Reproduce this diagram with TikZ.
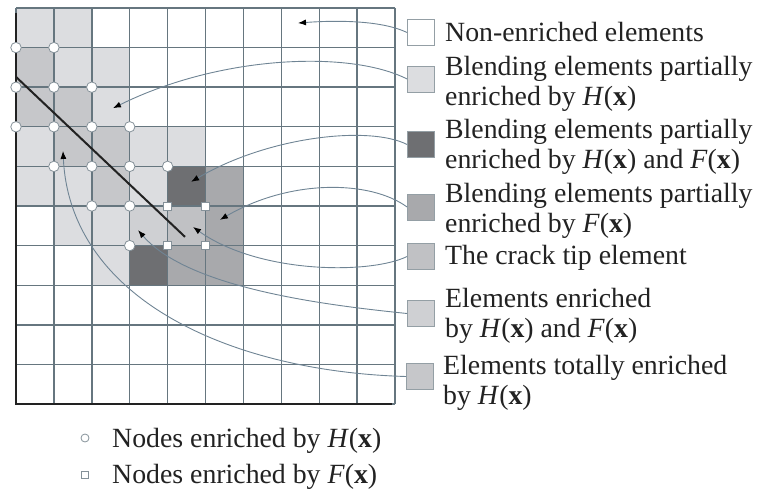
\documentclass[tikz,border=0pt]{standalone}
\usepackage{fontspec}
\setmainfont{Liberation Serif}
\usepackage{xcolor}
\usepackage{tikz}
\usetikzlibrary{positioning, arrows.meta, calc}
\definecolor{xfgrid}{HTML}{66767F}
\definecolor{xfline}{HTML}{6F8494}
\definecolor{xfblendH}{HTML}{DCDDE0}
\definecolor{xftotH}{HTML}{C6C7CA}
\definecolor{xfHF}{HTML}{CFD0D3}
\definecolor{xftip}{HTML}{C0C1C4}
\definecolor{xfblendHF}{HTML}{6E6F72}
\definecolor{xfblendF}{HTML}{A8A9AC}
\definecolor{xfink}{HTML}{222222}
\newcommand{\Hx}{\textit{H}(\textbf{x})}
\newcommand{\Fx}{\textit{F}(\textbf{x})}

\begin{document}
\begin{tikzpicture}[x=1pt, y=-1pt,
  mesh/.style={shift={(16,8)}, x=37.9pt, y=-39.6pt},
  gridline/.style={draw=xfgrid, line width=1.4pt},
  key/.style={rectangle, draw=xfgrid!70, line width=0.9pt,
    minimum width=27pt, minimum height=26pt, inner sep=0pt},
  lbl/.style={anchor=base west, inner sep=0pt, align=left, text=xfink,
    font=\fontsize{27.8}{30}\selectfont},
  arr/.style={-{Latex[length=8pt,width=6pt,color=black]}, draw=xfline, line width=0.9pt},
  hnode/.style={circle, draw=xfgrid!80, fill=white, line width=0.8pt,
    minimum size=10.5pt, inner sep=0pt},
  fnode/.style={rectangle, draw=xfgrid!80, fill=white, line width=0.8pt,
    minimum size=8pt, inner sep=0pt},
]
\useasboundingbox (0,0) rectangle (763,497);

% Mesh and element colours
\begin{scope}[mesh]
  \foreach \c/\r in {0/0,1/0,1/1,2/1,2/2,0/3,3/3,4/3,0/4,1/4,3/4,1/5,2/5,2/6}
    \fill[xfblendH] (\c,\r) rectangle ++(1,1);
  \foreach \c/\r in {0/1,0/2,1/2,1/3,2/3,2/4}
    \fill[xftotH] (\c,\r) rectangle ++(1,1);
  \foreach \c/\r in {4/4,3/6}
    \fill[xfblendHF] (\c,\r) rectangle ++(1,1);
  \foreach \c/\r in {5/4,5/5,4/6,5/6}
    \fill[xfblendF] (\c,\r) rectangle ++(1,1);
  \fill[xftip] (4,5) rectangle ++(1,1);
  \fill[xfHF] (3,5) rectangle ++(1,1);
  \foreach \i in {0,...,10} {
    \draw[gridline] (\i,0) -- (\i,10);
    \draw[gridline] (0,\i) -- (10,\i);
  }
  \draw[xfink, line width=2.4pt] (0,0.12) -- (0,10) -- (9.93,10);
  % crack
  \draw[xfink, line width=2pt] (0,1.74) -- (4.46,5.78);
  % arrow targets
  \coordinate (tNon) at (7.44,0.38);
  \coordinate (tBlendH) at (2.56,2.53);
  \coordinate (tBlendHF) at (4.62,4.39);
  \coordinate (tBlendF) at (5.38,5.35);
  \coordinate (tTip) at (4.67,5.53);
  \coordinate (tHF) at (3.22,5.61);
  \coordinate (tTotH) at (1.24,3.61);
\end{scope}

% Legend boxes
\node[key, fill=white] (kNon) at (421,32.5) {};
\node[key, fill=xfblendH] (kBlendH) at (421,79) {};
\node[key, fill=xfblendHF] (kBlendHF) at (421,144.5) {};
\node[key, fill=xfblendF] (kBlendF) at (421,207) {};
\node[key, fill=xftip] (kTip) at (421,256.5) {};
\node[key, fill=xfHF] (kHF) at (421,313.5) {};
\node[key, fill=xftotH] (kTotH) at (420,376.5) {};

% Legend texts (base = last line)
\node[lbl] (lNon) at (445,42) {Non-enriched elements};
\node[lbl] (lBlendH) at (445,106) {Blending elements partially\\enriched by \Hx};
\node[lbl] (lBlendHF) at (445,169) {Blending elements partially\\enriched by \Hx{} and \Fx};
\node[lbl] (lBlendF) at (445,233) {Blending elements partially\\enriched by \Fx};
\node[lbl] (lTip) at (445,265) {The crack tip element};
\node[lbl] (lHF) at (445,337) {Elements enriched\\by \Hx{} and \Fx};
\node[lbl] (lTotH) at (443,404) {Elements totally enriched\\by \Hx};

% Arrows
\draw[arr] (kNon.west) .. controls +(-25,-12) and +(40,-3) .. (tNon);
\draw[arr] (kBlendH.west) .. controls +(-57,-29) and +(107,-53) .. (tBlendH);
\draw[arr] (kBlendHF.west) .. controls +(-37,-19) and +(78,-46) .. (tBlendHF);
\draw[arr] (kBlendF.west) .. controls +(-37,-27) and +(70,-41) .. (tBlendF);
\draw[arr] (kTip.west) .. controls +(-37,18) and +(66,47) .. (tTip);
\draw[arr] (kHF.west) .. controls +(-77,-8) and +(51,59) .. (tHF);
\draw[arr] (kTotH.west) .. controls +(-176,-5) and +(7,148) .. (tTotH);

% Enriched nodes
\begin{scope}[mesh]
  \foreach \i/\j in {0/1,1/1,0/2,1/2,2/2,0/3,1/3,2/3,3/3,1/4,2/4,3/4,4/4,2/5,3/5,3/6}
    \node[hnode] (h\i\j) at (\i,\j) {};
  \foreach \i/\j in {4/5,5/5,4/6,5/6}
    \node[fnode] (f\i\j) at (\i,\j) {};
\end{scope}

% Node legend
\node[hnode, minimum size=8pt] (kHnode) at (85,438) {};
\node[lbl] (lHnode) at (112,447) {Nodes enriched by \Hx};
\node[fnode, minimum size=7pt] (kFnode) at (85,475) {};
\node[lbl] (lFnode) at (112,483) {Nodes enriched by \Fx};
\end{tikzpicture}
\end{document}
